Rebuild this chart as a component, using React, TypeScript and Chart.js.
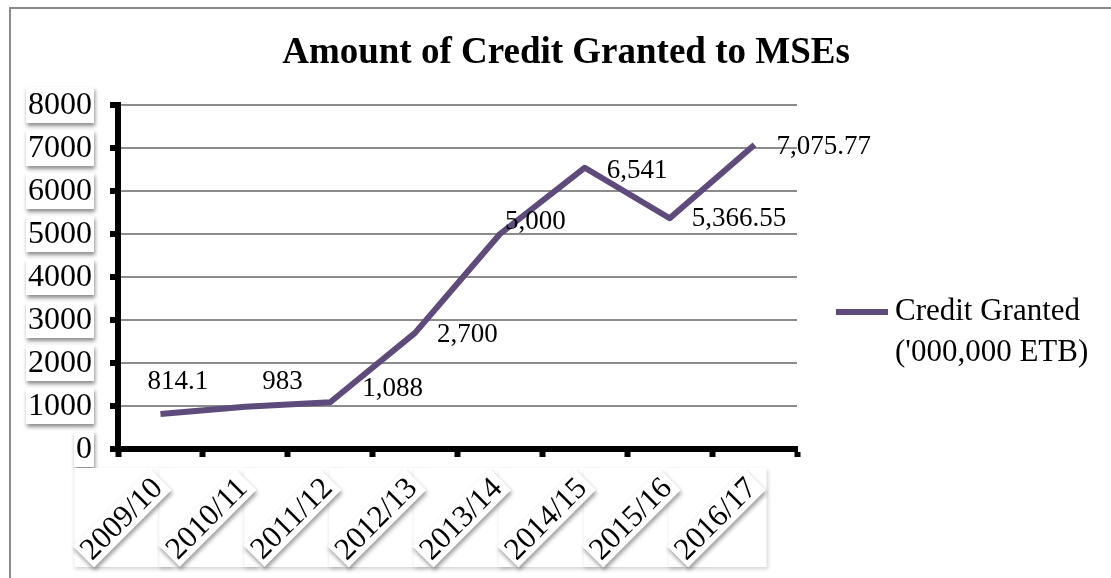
import React, { useEffect, useRef } from "react";
import { Chart, registerables } from "chart.js";

Chart.register(...registerables);

// ---- data ----
const categories = ["2009/10", "2010/11", "2011/12", "2012/13", "2013/14", "2014/15", "2015/16", "2016/17"];
const creditGranted = [814.1, 983, 1088, 2700, 5000, 6541, 5366.55, 7075.77];
const yTicks = [0, 1000, 2000, 3000, 4000, 5000, 6000, 7000, 8000];
const chartTitle = "Amount of Credit Granted to MSEs";
const legendLines = ["Credit Granted", "('000,000 ETB)"];

// ---- style ----
const SERIF = "'Liberation Serif', 'Times New Roman', Times, serif";
const LINE_COLOR = "#5E4B7C";
// data label nudges relative to each point (style only)
const LABEL_OFFSETS: [number, number][] = [
  [-13, -32],
  [17, -25],
  [32, -13],
  [22, 2],
  [5, -12],
  [22, 3],
  [22, 1],
  [22, 2],
];

const fmt = (v: number) => v.toLocaleString("en-US", { maximumFractionDigits: 2 });

const decorPlugin = {
  id: "decor",
  beforeDraw(chart: any) {
    const ctx = chart.ctx as CanvasRenderingContext2D;
    ctx.save();
    ctx.fillStyle = "#ffffff";
    ctx.fillRect(0, 0, chart.width, chart.height);
    ctx.strokeStyle = "#8a8a8a";
    ctx.lineWidth = 2;
    ctx.strokeRect(10, 8, chart.width + 40, chart.height + 40);
    ctx.restore();
  },
  afterDraw(chart: any) {
    const ctx = chart.ctx as CanvasRenderingContext2D;
    const xs = chart.scales.x;
    const ys = chart.scales.y;

    // title
    ctx.save();
    ctx.fillStyle = "#000";
    ctx.font = `bold 37px ${SERIF}`;
    ctx.textAlign = "center";
    ctx.textBaseline = "middle";
    ctx.fillText(chartTitle, 566, 53);
    ctx.restore();

    // y tick labels with shadowed boxes
    ctx.save();
    ctx.font = `32px ${SERIF}`;
    ctx.textAlign = "right";
    ctx.textBaseline = "middle";
    yTicks.forEach((v) => {
      const y = ys.getPixelForValue(v);
      const t = String(v);
      const w = ctx.measureText(t).width;
      const right = 92;
      ctx.save();
      ctx.shadowColor = "rgba(0,0,0,0.45)";
      ctx.shadowBlur = 4;
      ctx.shadowOffsetX = 1;
      ctx.shadowOffsetY = 3;
      ctx.fillStyle = "#fff";
      ctx.fillRect(right - w - 2, y - 18, w + 4, 36);
      ctx.restore();
      ctx.fillStyle = "#000";
      ctx.fillText(t, right, y + 1);
    });
    ctx.restore();

    // x tick label backing rects
    ctx.save();
    categories.forEach((_, i) => {
      const x = xs.getPixelForValue(i);
      ctx.save();
      ctx.shadowColor = "rgba(0,0,0,0.18)";
      ctx.shadowBlur = 4;
      ctx.shadowOffsetX = 1;
      ctx.shadowOffsetY = 2;
      ctx.fillStyle = "#fff";
      ctx.fillRect(x - 86, 468, 98, 99);
      ctx.restore();
    });
    ctx.font = `31px ${SERIF}`;
    ctx.textAlign = "right";
    ctx.textBaseline = "middle";
    categories.forEach((c, i) => {
      const x = xs.getPixelForValue(i);
      const w = ctx.measureText(c).width;
      ctx.save();
      ctx.translate(x - 3, 483);
      ctx.rotate(-Math.PI / 4);
      ctx.save();
      ctx.shadowColor = "rgba(0,0,0,0.4)";
      ctx.shadowBlur = 4;
      ctx.shadowOffsetX = 1;
      ctx.shadowOffsetY = 3;
      ctx.fillStyle = "#fff";
      ctx.fillRect(-w - 3, -15, w + 8, 30);
      ctx.restore();
      ctx.fillStyle = "#000";
      ctx.fillText(c, 0, 1);
      ctx.restore();
    });
    ctx.restore();

    // data labels
    const meta = chart.getDatasetMeta(0);
    ctx.save();
    ctx.font = `27px ${SERIF}`;
    ctx.textAlign = "left";
    ctx.textBaseline = "middle";
    ctx.fillStyle = "#000";
    meta.data.forEach((pt: any, i: number) => {
      const [dx, dy] = LABEL_OFFSETS[i] || [22, 0];
      ctx.fillText(fmt(creditGranted[i]), pt.x + dx, pt.y + dy);
    });
    ctx.restore();

    // legend
    ctx.save();
    ctx.strokeStyle = LINE_COLOR;
    ctx.lineWidth = 6;
    ctx.beginPath();
    ctx.moveTo(836, 312);
    ctx.lineTo(888, 312);
    ctx.stroke();
    ctx.fillStyle = "#000";
    ctx.font = `31px ${SERIF}`;
    ctx.textAlign = "left";
    ctx.textBaseline = "middle";
    legendLines.forEach((l, i) => ctx.fillText(l, 895, 312 + i * 41));
    ctx.restore();
  },
};

export default function App() {
  const ref = useRef<HTMLCanvasElement | null>(null);
  useEffect(() => {
    if (!ref.current) return;
    const chart = new Chart(ref.current, {
      type: "line",
      data: {
        labels: categories,
        datasets: [
          {
            label: legendLines.join(" "),
            data: creditGranted,
            borderColor: LINE_COLOR,
            backgroundColor: LINE_COLOR,
            borderWidth: 6,
            pointRadius: 0,
            tension: 0,
            borderJoinStyle: "round",
            borderCapStyle: "butt",
            clip: false as any,
          },
        ],
      },
      options: {
        responsive: false,
        animation: false,
        layout: { padding: { left: 110, right: 314, top: 105, bottom: 121 } },
        plugins: {
          legend: { display: false },
          title: { display: false },
          tooltip: { enabled: false },
        },
        scales: {
          x: {
            type: "category",
            offset: true,
            grid: {
              display: true,
              offset: true,
              drawOnChartArea: false,
              drawTicks: true,
              tickLength: 8,
              tickWidth: 6,
              tickColor: "#000",
            },
            border: { display: true, color: "#000", width: 6 },
            ticks: { display: false },
          },
          y: {
            min: 0,
            max: 8000,
            afterBuildTicks: (scale: any) => {
              scale.ticks = yTicks.map((v) => ({ value: v }));
            },
            grid: {
              display: true,
              color: "#8c8c8c",
              lineWidth: 2,
              drawTicks: true,
              tickLength: 8,
              tickWidth: 6,
              tickColor: "#000",
            },
            border: { display: true, color: "#000", width: 6 },
            ticks: { display: false },
          },
        },
      },
      plugins: [decorPlugin],
    });
    return () => chart.destroy();
  }, []);
  return (
    <div style={{ position: "absolute", left: 0, top: 0, width: 1111, height: 578 }}>
      <canvas ref={ref} width={1111} height={578} style={{ display: "block" }} />
    </div>
  );
}
